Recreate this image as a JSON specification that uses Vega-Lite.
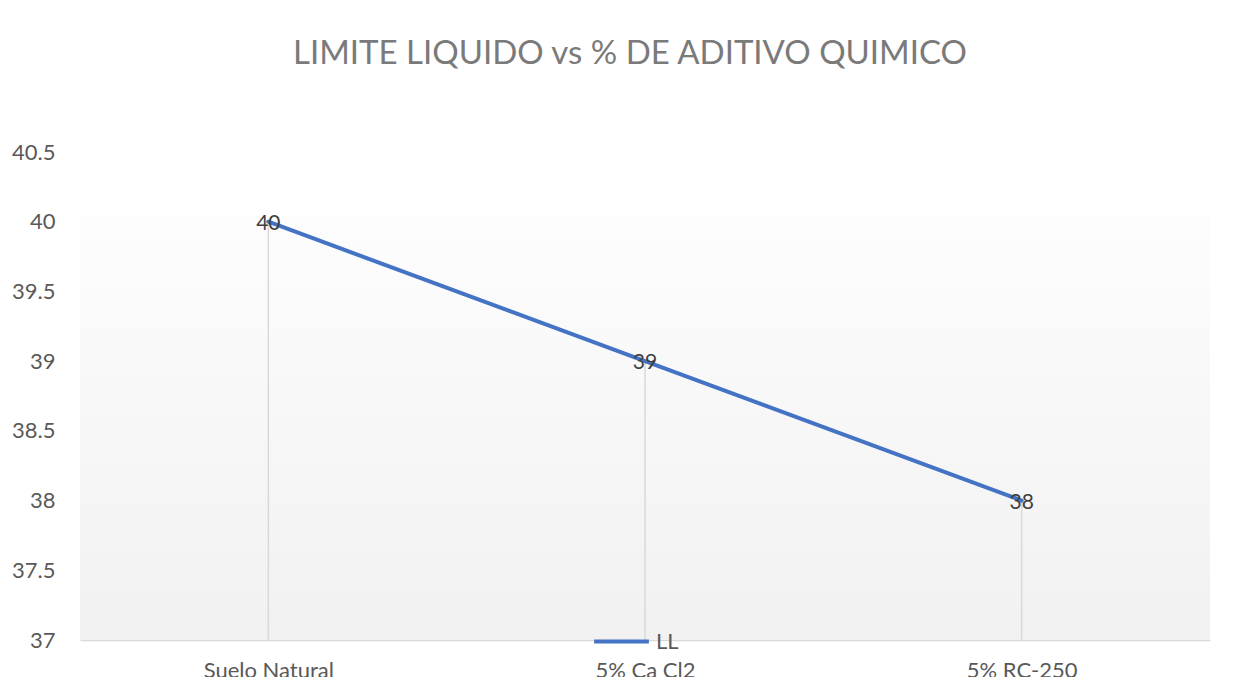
{
  "$schema": "https://vega.github.io/schema/vega-lite/v6.json",
  "width": 1130,
  "height": 488,
  "autosize": {"type": "none"},
  "padding": {"left": 80, "top": 152, "right": 48, "bottom": 37},
  "background": "#ffffff",
  "title": {
    "text": "LIMITE LIQUIDO vs % DE ADITIVO QUIMICO",
    "font": "Lato",
    "fontSize": 33,
    "fontWeight": "normal",
    "color": "#7a7a7a",
    "anchor": "middle",
    "offset": 70,
    "dx": -15
  },
  "data": {
    "values": [
      {"cat": "Suelo Natural", "LL": 40, "series": "LL"},
      {"cat": "5%  Ca Cl2", "LL": 39, "series": "LL"},
      {"cat": "5% RC-250", "LL": 38, "series": "LL"}
    ]
  },
  "config": {
    "view": {"stroke": null},
    "font": "Lato"
  },
  "encoding": {
    "x": {
      "field": "cat",
      "type": "nominal",
      "sort": ["Suelo Natural", "5%  Ca Cl2", "5% RC-250"],
      "scale": {"type": "point", "padding": 0.5},
      "axis": {
        "title": null,
        "labelAngle": 0,
        "labelFontSize": 22,
        "labelColor": "#595959",
        "labelFont": "Lato",
        "labelPadding": 20,
        "ticks": false,
        "grid": false,
        "domainColor": "#d9d9d9",
        "domainWidth": 1.5
      }
    }
  },
  "layer": [
    {
      "data": {"values": [{"lo": 37, "hi": 40.04}]},
      "mark": {
        "type": "rect",
        "fill": {
          "gradient": "linear",
          "x1": 0, "y1": 0, "x2": 0, "y2": 1,
          "stops": [
            {"offset": 0, "color": "#fdfdfd"},
            {"offset": 1, "color": "#f1f1f1"}
          ]
        }
      },
      "encoding": {
        "x": null,
        "y": {"field": "hi", "type": "quantitative", "scale": {"domain": [37, 40.5], "nice": false, "zero": false}},
        "y2": {"field": "lo"}
      }
    },
    {
      "mark": {"type": "rule", "color": "#d9d9d9", "strokeWidth": 1.5},
      "encoding": {
        "y": {"field": "LL", "type": "quantitative"},
        "y2": {"datum": 37}
      }
    },
    {
      "mark": {"type": "line", "strokeWidth": 4, "strokeCap": "round"},
      "encoding": {
        "y": {
          "field": "LL",
          "type": "quantitative",
          "scale": {"domain": [37, 40.5], "nice": false, "zero": false},
          "axis": {
            "title": null,
            "values": [37, 37.5, 38, 38.5, 39, 39.5, 40, 40.5],
            "format": ".1~f",
            "labelFontSize": 22,
            "labelColor": "#595959",
            "labelFont": "Lato",
            "labelPadding": 25,
            "ticks": false,
            "domain": false,
            "grid": false
          }
        },
        "color": {
          "field": "series",
          "type": "nominal",
          "scale": {"range": ["#4472C4"]},
          "legend": {
            "title": null,
            "orient": "none",
            "legendX": 512,
            "legendY": 460,
            "symbolType": "stroke",
            "symbolSize": 3000,
            "symbolStrokeWidth": 4,
            "labelFontSize": 22,
            "labelColor": "#595959",
            "labelFont": "Lato",
            "labelOffset": 5
          }
        }
      }
    },
    {
      "mark": {"type": "text", "fontSize": 21, "color": "#404040", "align": "center", "baseline": "middle", "dy": 2},
      "encoding": {
        "y": {"field": "LL", "type": "quantitative"},
        "text": {"field": "LL", "type": "quantitative"}
      }
    }
  ]
}
